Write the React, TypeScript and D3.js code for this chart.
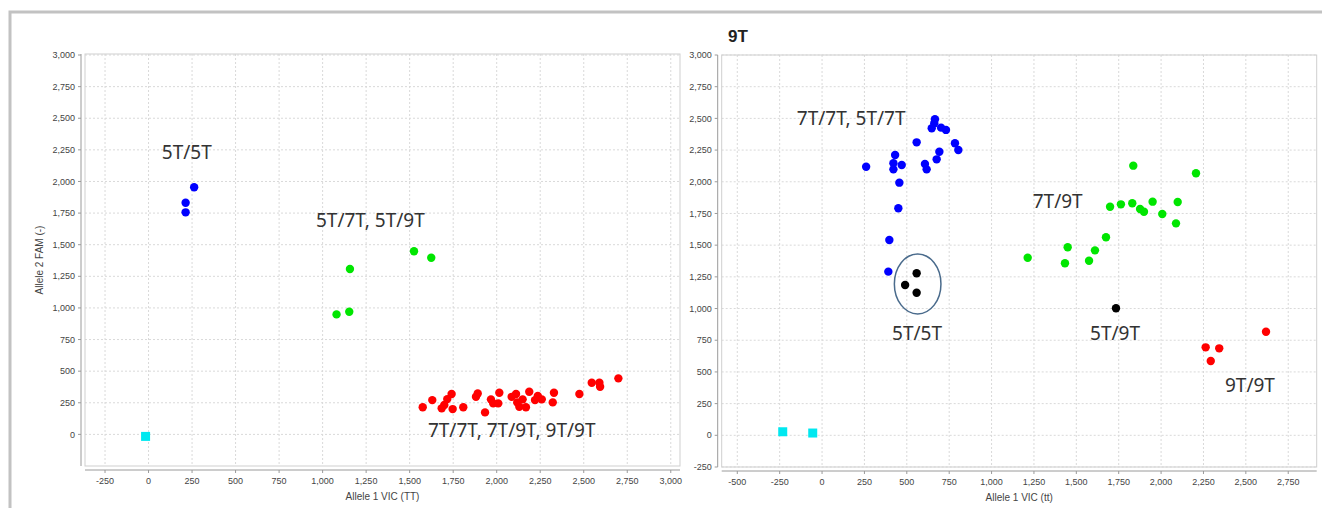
import React from "react";
import * as d3 from "d3";

// ---- data (allele 1 VIC, allele 2 FAM) ----
const leftBlue: [number, number][] = [
  [262, 1954], [213, 1832], [213, 1756],
];
const leftGreen: [number, number][] = [
  [1080, 949], [1153, 970], [1157, 1308], [1525, 1448], [1624, 1397],
];
const leftRed: [number, number][] = [
  [1575, 214], [1630, 271], [1684, 206], [1699, 232], [1716, 279], [1741, 319],
  [1747, 200], [1808, 214], [1881, 297], [1891, 324], [1933, 174], [1967, 277],
  [1980, 245], [2009, 245], [2015, 329], [2086, 297], [2111, 319], [2118, 253],
  [2130, 218], [2149, 277], [2168, 214], [2187, 337], [2220, 271], [2236, 303],
  [2259, 277], [2322, 253], [2329, 329], [2475, 319], [2546, 408], [2590, 408],
  [2594, 377], [2699, 443],
];
const leftCyan: [number, number][] = [[-17, -16]];

const rightBlue: [number, number][] = [
  [260, 2119], [431, 2211], [421, 2146], [421, 2098], [470, 2132], [456, 1993],
  [450, 1791], [397, 1541], [391, 1291], [558, 2311], [607, 2140], [617, 2098],
  [666, 2493], [662, 2461], [647, 2422], [702, 2427], [731, 2409], [692, 2237],
  [676, 2177], [784, 2304], [804, 2251],
];
const rightBlack: [number, number][] = [
  [558, 1278], [490, 1186], [558, 1125], [1734, 1002],
];
const rightGreen: [number, number][] = [
  [1213, 1401], [1433, 1357], [1449, 1483], [1575, 1377], [1610, 1459],
  [1675, 1562], [1699, 1803], [1763, 1822], [1830, 1830], [1836, 2127],
  [1876, 1785], [1899, 1764], [1950, 1843], [2007, 1746], [2088, 1672],
  [2098, 1840], [2206, 2067],
];
const rightRed: [number, number][] = [
  [2263, 694], [2343, 686], [2293, 586], [2619, 817],
];
const rightCyan: [number, number][] = [[-232, 28], [-55, 18]];

const leftXTicks = d3.range(-250, 3001, 250);
const leftYTicks = d3.range(0, 3001, 250);
const rightXTicks = d3.range(-500, 2751, 250);
const rightYTicks = d3.range(-250, 3001, 250);

const leftLabels = [
  { text: "5T/5T", x: 76, y: 2178 },
  { text: "5T/7T, 5T/9T", x: 962, y: 1642 },
  { text: "7T/7T, 7T/9T, 9T/9T", x: 1605, y: -21 },
];
const rightLabels = [
  { text: "7T/7T, 5T/7T", x: -149, y: 2448 },
  { text: "7T/9T", x: 1243, y: 1793 },
  { text: "5T/5T", x: 413, y: 752 },
  { text: "5T/9T", x: 1581, y: 752 },
  { text: "9T/9T", x: 2377, y: 344 },
];

const fmt = d3.formatLocale({
  decimal: ".",
  thousands: ",",
  grouping: [3],
  currency: ["", ""],
  minus: "-",
}).format(",");

const tickFont = "'Liberation Sans', Arial, sans-serif";
const noteFont = "'Noto Sans', 'Open Sans', sans-serif";

type Series = { pts: [number, number][]; color: string; square?: boolean };

function Panel(props: {
  x0: number; x1: number; y0: number; y1: number;
  xDomain: [number, number]; yDomain: [number, number];
  xTicks: number[]; yTicks: number[];
  xTitle: string; yTitle?: string;
  series: Series[];
  labels: { text: string; x: number; y: number }[];
  ellipse?: { x: number; y: number; rx: number; ry: number };
}) {
  const { x0, x1, y0, y1 } = props;
  const x = d3.scaleLinear().domain(props.xDomain).range([x0, x1]);
  const y = d3.scaleLinear().domain(props.yDomain).range([y1, y0]);
  const axY = x0 - 4;
  const axX = y1 + 4;
  return (
    <g>
      {/* grid */}
      {props.xTicks.map((t) => (
        <line key={"gx" + t} x1={x(t)} x2={x(t)} y1={y0} y2={y1}
          stroke="#d9d9d9" strokeDasharray="2,2" />
      ))}
      {props.yTicks.map((t) => (
        <line key={"gy" + t} x1={x0} x2={x1} y1={y(t)} y2={y(t)}
          stroke="#d9d9d9" strokeDasharray="2,2" />
      ))}
      <rect x={x0} y={y0} width={x1 - x0} height={y1 - y0} fill="none" stroke="#cfcfcf" />

      {/* axes */}
      <line x1={axY} x2={axY} y1={y0} y2={y1} stroke="#9a9a9a" />
      {props.yTicks.map((t) => (
        <g key={"ty" + t}>
          <line x1={axY - 3} x2={axY} y1={y(t)} y2={y(t)} stroke="#9a9a9a" />
          <text x={axY - 6} y={y(t)} dy="0.35em" textAnchor="end"
            fontSize={9} fontFamily={tickFont} fill="#444">{fmt(t)}</text>
        </g>
      ))}
      <line x1={x0} x2={x1} y1={axX} y2={axX} stroke="#9a9a9a" />
      {props.xTicks.map((t) => (
        <g key={"tx" + t}>
          <line x1={x(t)} x2={x(t)} y1={axX} y2={axX + 3} stroke="#9a9a9a" />
          <text x={x(t)} y={axX + 14} textAnchor="middle"
            fontSize={9} fontFamily={tickFont} fill="#444">{fmt(t)}</text>
        </g>
      ))}
      <text x={(x0 + x1) / 2} y={axX + 30} textAnchor="middle"
        fontSize={10} fontFamily={tickFont} fill="#444">{props.xTitle}</text>
      {props.yTitle && (
        <text transform={`translate(${x0 - 42},${(y0 + y1) / 2}) rotate(-90)`}
          textAnchor="middle" fontSize={10} fontFamily={tickFont} fill="#444">
          {props.yTitle}
        </text>
      )}

      {/* points */}
      {props.series.map((s, i) =>
        s.pts.map((p, j) =>
          s.square ? (
            <rect key={i + "-" + j} x={x(p[0]) - 4.5} y={y(p[1]) - 4.5}
              width={9} height={9} fill={s.color} />
          ) : (
            <circle key={i + "-" + j} cx={x(p[0])} cy={y(p[1])} r={4.2} fill={s.color} />
          )
        )
      )}

      {props.ellipse && (
        <ellipse cx={x(props.ellipse.x)} cy={y(props.ellipse.y)}
          rx={props.ellipse.rx} ry={props.ellipse.ry}
          fill="none" stroke="#4a6b8c" strokeWidth={1.5} />
      )}

      {props.labels.map((l) => (
        <text key={l.text + l.x} x={x(l.x)} y={y(l.y)} fontSize={19}
          fontFamily={noteFont} fill="#333">{l.text}</text>
      ))}
    </g>
  );
}

export default function App() {
  return (
    <svg width={1322} height={508}
      style={{ position: "absolute", left: 0, top: 0, background: "#fff" }}>
      <rect width={1322} height={508} fill="#fff" />
      <path d="M10,508 V12 H1322" fill="none" stroke="#c2c2c2" strokeWidth={3} />

      <Panel x0={85} x1={680} y0={54} y1={466}
        xDomain={[-365, 3053]} yDomain={[-250, 3008]}
        xTicks={leftXTicks} yTicks={leftYTicks}
        xTitle="Allele 1 VIC (TT)" yTitle="Allele 2 FAM (-)"
        series={[
          { pts: leftBlue, color: "#0000ff" },
          { pts: leftGreen, color: "#00e600" },
          { pts: leftRed, color: "#ff0000" },
          { pts: leftCyan, color: "#00e8f0", square: true },
        ]}
        labels={leftLabels} />

      <text x={728} y={42} fontSize={17} fontWeight="bold"
        fontFamily={tickFont} fill="#222">9T</text>

      <Panel x0={721.7} x1={1316.7} y0={55} y1={467}
        xDomain={[-592, 2918]} yDomain={[-250, 3000]}
        xTicks={rightXTicks} yTicks={rightYTicks}
        xTitle="Allele 1 VIC (tt)"
        series={[
          { pts: rightBlue, color: "#0000ff" },
          { pts: rightGreen, color: "#00e600" },
          { pts: rightRed, color: "#ff0000" },
          { pts: rightBlack, color: "#000000" },
          { pts: rightCyan, color: "#00e8f0", square: true },
        ]}
        labels={rightLabels}
        ellipse={{ x: 564, y: 1194, rx: 23.3, ry: 30 }} />
    </svg>
  );
}
